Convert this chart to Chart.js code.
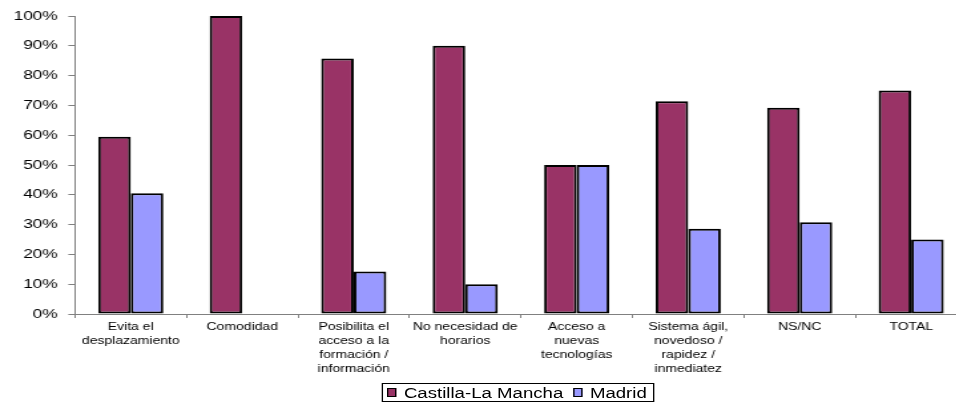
<!DOCTYPE html>
<html>
<head>
<meta charset="utf-8">
<script src="https://cdn.jsdelivr.net/npm/chart.js@4/dist/chart.umd.min.js"></script>
<style>
  html, body { margin: 0; padding: 0; background: #fff; overflow: hidden; width: 956px; height: 402px; }
  /* the original picture is stretched sideways, so the whole chart is drawn narrow and scaled in x */
  #wrap { position: relative; width: 727px; height: 402px; transform: scaleX(1.33); transform-origin: 0 0; }
  #legend {
    position: absolute; top: 383px; height: 17px;
    border: 1px solid #000; display: flex; align-items: center;
    padding: 0 5px 0 3px; box-sizing: content-box;
    font: 14px 'Liberation Sans', Arial, sans-serif; color: #000; white-space: nowrap;
  }
  #legend .item { display: flex; align-items: center; }
  #legend .item + .item { margin-left: 7px; }
  #legend .box { width: 5px; height: 7px; border: 1px solid #000; margin-right: 6px; }
</style>
</head>
<body>
<div id="wrap">
  <canvas id="chart" width="727" height="402"></canvas>
  <div id="legend"></div>
</div>
<script>
// categories (multi-line labels as in the original)
const categories = [
    ["Evita el", "desplazamiento"],
    ["Comodidad"],
    ["Posibilita el", "acceso a la", "formación /", "información"],
    ["No necesidad de", "horarios"],
    ["Acceso a", "nuevas", "tecnologías"],
    ["Sistema ágil,", "novedoso /", "rapidez /", "inmediatez"],
    ["NS/NC"],
    ["TOTAL"]
];
const castillaLaMancha = [59.5, 100, 85.7, 90, 50, 71.4, 69.2, 75];
const madrid = [40.5, 0, 14.3, 10, 50, 28.6, 30.8, 25];
const yTicks = [0, 10, 20, 30, 40, 50, 60, 70, 80, 90, 100];

const FONT = "'Liberation Sans', Arial, sans-serif";

// html legend with a frame, built from the chart's own datasets
const htmlLegend = {
    id: 'htmlLegend',
    afterUpdate(chart) {
        const el = document.getElementById('legend');
        el.innerHTML = '';
        chart.data.datasets.forEach(ds => {
            const item = document.createElement('span');
            item.className = 'item';
            const box = document.createElement('span');
            box.className = 'box';
            box.style.background = ds.backgroundColor;
            item.appendChild(box);
            item.appendChild(document.createTextNode(ds.label));
            el.appendChild(item);
        });
        const area = chart.chartArea;
        const mid = (area.left + area.right) / 2;
        el.style.left = (mid - el.offsetWidth / 2 - 2) + 'px';
    }
};

new Chart(document.getElementById('chart'), {
    type: 'bar',
    data: {
        labels: categories,
        datasets: [
            {
                label: 'Castilla-La Mancha',
                data: castillaLaMancha,
                backgroundColor: '#993366',
                borderColor: '#000',
                borderWidth: 2,
                borderSkipped: false
            },
            {
                label: 'Madrid',
                data: madrid,
                backgroundColor: '#9999FF',
                borderColor: '#000',
                borderWidth: 2,
                borderSkipped: false
            }
        ]
    },
    options: {
        responsive: false,
        animation: false,
        layout: { padding: { top: 16, left: 0, right: 0, bottom: 26 } },
        datasets: { bar: { categoryPercentage: 0.584, barPercentage: 1.0 } },
        plugins: {
            tooltip: { enabled: false },
            legend: { display: false }
        },
        scales: {
            x: {
                grid: { drawOnChartArea: false, offset: true, color: '#808080', tickLength: 4 },
                border: { color: '#808080', width: 1 },
                ticks: {
                    color: '#000',
                    font: { family: FONT, size: 10.5, lineHeight: 1.333 },
                    maxRotation: 0,
                    autoSkip: false,
                    padding: 2
                },
                afterFit(scale) { scale.height = 62; }
            },
            y: {
                min: 0,
                max: 100,
                afterBuildTicks(scale) { scale.ticks = yTicks.map(v => ({ value: v })); },
                grid: { drawOnChartArea: false, color: '#808080', tickLength: 5 },
                border: { color: '#808080', width: 1 },
                ticks: {
                    color: '#000',
                    font: { family: FONT, size: 13 },
                    padding: 8,
                    callback: v => v + '%'
                },
                afterFit(scale) { scale.width = 56.4; }
            }
        }
    },
    plugins: [htmlLegend]
});
</script>
</body>
</html>
